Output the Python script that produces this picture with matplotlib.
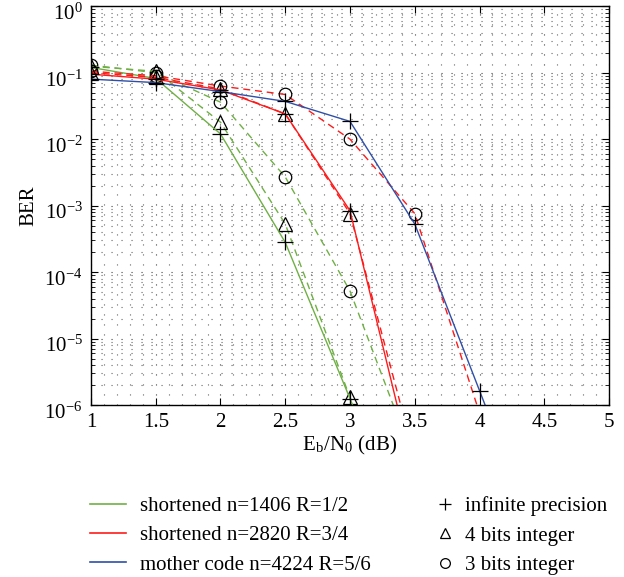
import matplotlib
matplotlib.use("Agg")
import matplotlib.pyplot as plt
import matplotlib.transforms as mtransforms
from matplotlib.lines import Line2D
from matplotlib.ticker import MultipleLocator, LogLocator, NullFormatter

plt.rcParams['font.family'] = ['Liberation Serif', 'DejaVu Serif']
plt.rcParams['mathtext.fontset'] = 'stix'

# Eb/N0 (dB)
ebn0 = [1.0, 1.5, 2.0, 2.5, 3.0, 3.5, 4.0, 4.5]

# shortened n=1406 R=1/2
g_inf = [0.12, 0.082, 0.012, 2.8e-4, 1.25e-6, 5e-9]
g_4b = [0.125, 0.105, 0.018, 5.3e-4, 1.3e-6, 5e-9]
g_3b = [0.13, 0.1, 0.036, 2.7e-3, 5.2e-5, 1.4e-7]
# shortened n=2820 R=3/4
r_inf = [0.095, 0.08, 0.055, 0.024, 8.4e-4, 8e-8]
r_4b = [0.1, 0.085, 0.057, 0.024, 7.6e-4, 1.6e-7]
r_3b = [0.105, 0.09, 0.063, 0.047, 0.01, 7.6e-4, 7.6e-7]
# mother code n=4224 R=5/6
b_inf = [0.08, 0.071, 0.052, 0.037, 0.0185, 5.3e-4, 1.65e-6, 5e-9]

legend_codes = ['shortened n=1406 R=1/2', 'shortened n=2820 R=3/4',
                'mother code n=4224 R=5/6']
legend_prec = ['infinite precision', '4 bits integer', '3 bits integer']
xticks = [1, 1.5, 2, 2.5, 3, 3.5, 4, 4.5, 5]

cg, cr, cb = '#6fb044', '#ff1a1a', '#2f4fa8'

fig = plt.figure(figsize=(6.24, 5.77), dpi=100)
ax = fig.add_axes([0.1458, 0.298, 0.8302, 0.6912])

lw = 1.0

def draw(y, color, ls, marker, ms):
    x = ebn0[:len(y)]
    line, = ax.plot(x, y, color=color, linewidth=lw, linestyle=ls)
    if ls == '--':
        line.set_dashes((5, 3.5))
    ax.plot(x, y, linestyle='none', marker=marker, markeredgecolor='black',
            markerfacecolor='none', markersize=ms, markeredgewidth=0.9)

draw(g_3b, cg, '--', 'o', 9)
draw(g_4b, cg, '--', '^', 10)
draw(g_inf, cg, '-', '+', 12)
draw(r_3b, cr, '--', 'o', 9)
draw(r_4b, cr, '--', '^', 10)
draw(r_inf, cr, '-', '+', 12)
draw(b_inf, cb, '-', '+', 12)

ax.set_yscale('log')
ax.set_xlim(1, 5)
ax.set_ylim(1e-6, 1)
ax.set_xticks(xticks)
ax.set_xticklabels([f'{v:g}' for v in xticks])
ax.xaxis.set_minor_locator(MultipleLocator(0.1))
ax.yaxis.set_major_locator(LogLocator(base=10, numticks=10))
ax.yaxis.set_minor_locator(LogLocator(base=10, subs=range(2, 10), numticks=100))
ax.yaxis.set_minor_formatter(NullFormatter())

ax.grid(True, which='major', linestyle=(0, (1, 8)), color='#444444', linewidth=0.8)
ax.grid(True, which='minor', linestyle=(0, (1, 8)), color='#666666', linewidth=0.8)
ax.set_axisbelow(True)

ax.tick_params(which='major', direction='in', top=True, right=True, length=5,
               labelsize=15, width=0.8, pad=6)
ax.tick_params(which='minor', direction='in', top=False, right=True, left=True,
               bottom=False, length=3, width=0.6)
for s in ax.spines.values():
    s.set_linewidth(1.0)

# shift y tick labels slightly down (base centered on tick as in reference)
offset = mtransforms.ScaledTranslation(0, -4 / 72, fig.dpi_scale_trans)
for lab in ax.get_yticklabels():
    lab.set_transform(lab.get_transform() + offset)

ax.set_xlabel(r'E$_\mathregular{b}$/N$_\mathregular{0}$ (dB)', fontsize=15, labelpad=1)
ax.set_ylabel('BER', fontsize=15, labelpad=4)

h1 = [Line2D([], [], color=c, linewidth=1.2) for c in (cg, cr, cb)]
fig.legend(h1, legend_codes, loc='upper left',
           bbox_to_anchor=(0.145, 0.14), frameon=False, fontsize=15,
           handlelength=1.7, handletextpad=0.67, labelspacing=0.47,
           borderaxespad=0, borderpad=0)
h2 = [Line2D([], [], color='black', linestyle='none', marker=m,
             markerfacecolor='none', markersize=s, markeredgewidth=0.9)
      for m, s in (('+', 9), ('^', 7), ('o', 7))]
fig.legend(h2, legend_prec, loc='upper left',
           bbox_to_anchor=(0.697, 0.14), frameon=False, fontsize=15,
           handlelength=1.0, handletextpad=0.45, labelspacing=0.47,
           borderaxespad=0, borderpad=0)

fig.savefig('out.png', dpi=100)
